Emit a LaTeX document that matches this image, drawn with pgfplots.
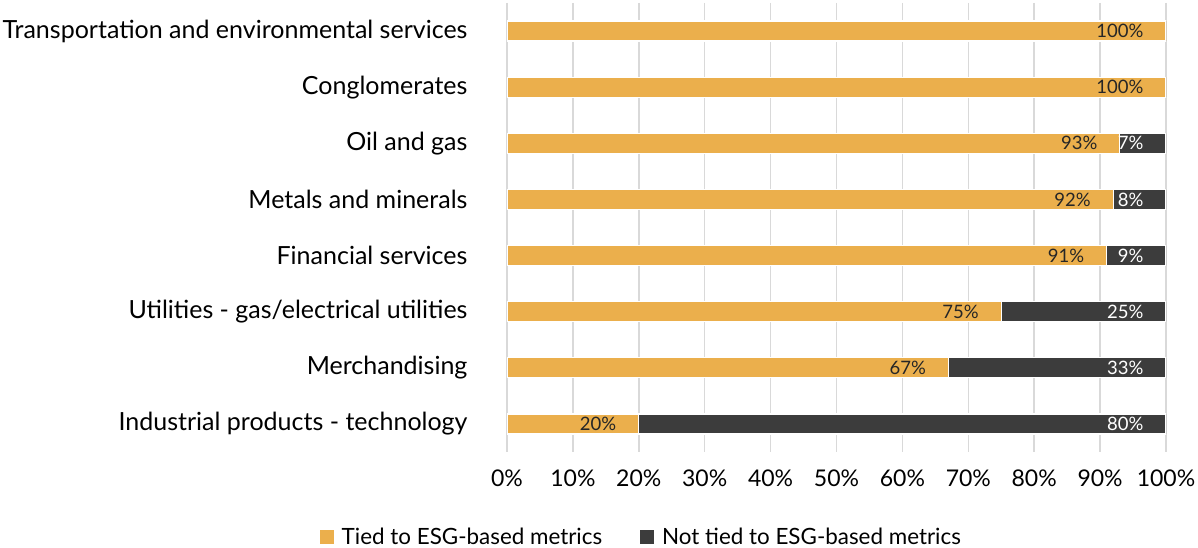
\documentclass[border=0pt]{standalone}
\usepackage{fontspec}
\setmainfont{Lato}
\usepackage{pgfplots}
\usepackage{pgfplotstable}
\pgfplotsset{compat=1.18}
\definecolor{tied}{HTML}{EBAF4C}
\definecolor{nottied}{HTML}{3C3C3C}
\definecolor{gridc}{HTML}{D9D9D9}

\pgfplotsset{
    sqlegend/.style={legend image code/.code={\fill[##1,draw=none] (0pt,-7pt) rectangle (14pt,7pt);}},
    segment/.style={xbar, bar width=20pt, bar shift=0pt, fill=#1, draw=white,
        line width=1.2pt, sqlegend},
    barlabels/.style={
        sharp plot, draw=none, mark=none, stack plots=false, forget plot,
        point meta=explicit,
        nodes near coords={\pgfmathfloatifflags{\pgfplotspointmeta}{0}{}{\pgfmathprintnumber{\pgfplotspointmeta}\%}},
        nodes near coords align={anchor=east},
        every node near coord/.append style={xshift=-19pt, text=#1,
            font=\fontsize{18.5}{22}\selectfont}},
}

% full = right end of the dark segment
\pgfplotstableread{
y tied not full
0 100 0 100
1 100 0 100
2 93 7 100
3 92 8 100
4 91 9 100
5 75 25 100
6 67 33 100
7 20 80 100
}\esgdata

\begin{document}
\begin{tikzpicture}
\useasboundingbox (0,0) rectangle (1198pt,548pt);
\begin{axis}[
    at={(507pt,96pt)}, anchor=south west,
    scale only axis,
    width=659pt, height=449pt,
    stack plots=x,
    xmin=0, xmax=100,
    ymin=-0.5, ymax=7.5,
    y dir=reverse,
    ytick={0,...,7},
    yticklabels={Transportation and environmental services, Conglomerates,
        Oil and gas, Metals and minerals, Financial services,
        Utilities - gas/electrical utilities, Merchandising,
        Industrial products - technology},
    xtick={0,10,...,100},
    xticklabels={0\%,10\%,20\%,30\%,40\%,50\%,60\%,70\%,80\%,90\%,100\%},
    /pgf/number format/assume math mode=true,
    axis line style={draw=none},
    major tick length=0pt,
    xmajorgrids,
    grid style={gridc, line width=1.5pt},
    yticklabel style={font=\fontsize{25}{30}\selectfont, text=black, xshift=-36pt},
    xticklabel style={font=\fontsize{23}{27}\selectfont, text=black, yshift=-14pt},
    legend style={at={(-0.289,-0.19)}, anchor=west, draw=none, fill=none,
        font=\fontsize{22.4}{26}\selectfont, legend columns=2,
        /tikz/every odd column/.append style={column sep=6pt},
        /tikz/every even column/.append style={column sep=36pt}},
    legend cell align=left,
]
\addplot[segment=tied] table[x=tied, y=y] {\esgdata};
\addlegendentry{Tied to ESG-based metrics}
\addplot[segment=nottied] table[x=not, y=y] {\esgdata};
\addlegendentry{Not tied to ESG-based metrics}
\addplot[barlabels=black!85] table[x=tied, y=y, meta=tied] {\esgdata};
\addplot[barlabels=white] table[x=full, y=y, meta=not] {\esgdata};
\end{axis}
\end{tikzpicture}
\end{document}
